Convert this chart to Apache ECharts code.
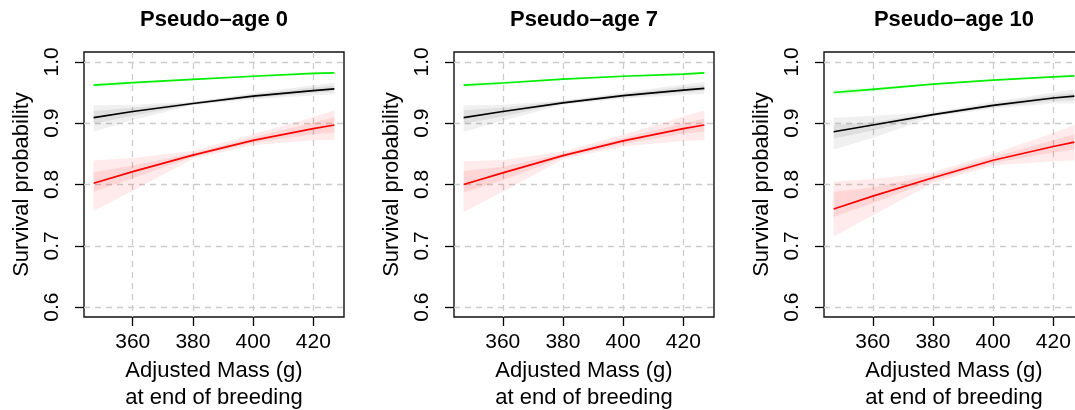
<!DOCTYPE html>
<html>
<head>
<meta charset="utf-8">
<script src="https://cdn.jsdelivr.net/npm/echarts@6/dist/echarts.min.js"></script>
<style>
  html, body { margin: 0; padding: 0; background: #fff; }
  #chart { width: 1075px; height: 410px; }
</style>
</head>
<body>
<div id="chart"></div>
<script>
// ---------------- data ----------------
const panelTitles = ['Pseudo\u2013age 0', 'Pseudo\u2013age 7', 'Pseudo\u2013age 10'];
const masses = [347, 360, 380, 400, 420, 427];
const xTicks = [360, 380, 400, 420];
const yTicks = [0.6, 0.7, 0.8, 0.9, 1.0];
const xName = 'Adjusted Mass (g)\nat end of breeding';
const yName = 'Survival probability';

// Pseudo-age 0
const age0Green      = [0.962, 0.966, 0.9715, 0.9765, 0.981, 0.982];
const age0GreenLo    = [0.958, 0.963, 0.9705, 0.975, 0.979, 0.980];
const age0GreenHi    = [0.965, 0.968, 0.9725, 0.978, 0.983, 0.984];
const age0Black      = [0.909, 0.919, 0.932, 0.944, 0.953, 0.956];
const age0BlackOutLo = [0.886, 0.905, 0.929, 0.939, 0.945, 0.947];
const age0BlackOutHi = [0.929, 0.930, 0.935, 0.949, 0.962, 0.966];
const age0BlackInLo  = [0.899, 0.912, 0.930, 0.941, 0.949, 0.952];
const age0BlackInHi  = [0.920, 0.925, 0.934, 0.947, 0.958, 0.961];
const age0Red        = [0.802, 0.821, 0.848, 0.872, 0.891, 0.897];
const age0RedOutLo   = [0.757, 0.790, 0.842, 0.864, 0.872, 0.873];
const age0RedOutHi   = [0.839, 0.843, 0.855, 0.882, 0.910, 0.921];
const age0RedInLo    = [0.788, 0.810, 0.845, 0.868, 0.882, 0.885];
const age0RedInHi    = [0.820, 0.831, 0.851, 0.877, 0.901, 0.910];

// Pseudo-age 7
const age7Green      = [0.962, 0.9655, 0.9717, 0.9765, 0.980, 0.982];
const age7GreenLo    = [0.958, 0.963, 0.9707, 0.975, 0.978, 0.980];
const age7GreenHi    = [0.965, 0.968, 0.9727, 0.978, 0.982, 0.984];
const age7Black      = [0.909, 0.919, 0.933, 0.945, 0.954, 0.9566];
const age7BlackOutLo = [0.886, 0.904, 0.930, 0.940, 0.946, 0.948];
const age7BlackOutHi = [0.929, 0.930, 0.937, 0.950, 0.963, 0.967];
const age7BlackInLo  = [0.899, 0.911, 0.932, 0.942, 0.950, 0.953];
const age7BlackInHi  = [0.921, 0.925, 0.936, 0.948, 0.959, 0.962];
const age7Red        = [0.800, 0.819, 0.847, 0.871, 0.891, 0.897];
const age7RedOutLo   = [0.755, 0.788, 0.841, 0.862, 0.871, 0.872];
const age7RedOutHi   = [0.838, 0.840, 0.854, 0.881, 0.911, 0.921];
const age7RedInLo    = [0.787, 0.807, 0.844, 0.866, 0.883, 0.886];
const age7RedInHi    = [0.822, 0.829, 0.850, 0.876, 0.900, 0.907];

// Pseudo-age 10
const age10Green      = [0.950, 0.955, 0.9636, 0.970, 0.9755, 0.977];
const age10GreenLo    = [0.945, 0.951, 0.9626, 0.969, 0.974, 0.975];
const age10GreenHi    = [0.954, 0.958, 0.9646, 0.971, 0.977, 0.979];
const age10Black      = [0.886, 0.897, 0.914, 0.929, 0.941, 0.944];
const age10BlackOutLo = [0.857, 0.876, 0.910, 0.924, 0.932, 0.932];
const age10BlackOutHi = [0.909, 0.912, 0.918, 0.935, 0.950, 0.955];
const age10BlackInLo  = [0.875, 0.888, 0.912, 0.926, 0.936, 0.9375];
const age10BlackInHi  = [0.897, 0.902, 0.916, 0.932, 0.946, 0.949];
const age10Red        = [0.760, 0.781, 0.811, 0.8395, 0.862, 0.869];
const age10RedOutLo   = [0.715, 0.750, 0.802, 0.831, 0.838, 0.839];
const age10RedOutHi   = [0.805, 0.809, 0.820, 0.850, 0.884, 0.897];
const age10RedInLo    = [0.747, 0.770, 0.806, 0.835, 0.852, 0.857];
const age10RedInHi    = [0.788, 0.795, 0.816, 0.845, 0.872, 0.882];

const panels = [
  { green: age0Green, greenLo: age0GreenLo, greenHi: age0GreenHi,
    black: age0Black, blackOutLo: age0BlackOutLo, blackOutHi: age0BlackOutHi, blackInLo: age0BlackInLo, blackInHi: age0BlackInHi,
    red: age0Red, redOutLo: age0RedOutLo, redOutHi: age0RedOutHi, redInLo: age0RedInLo, redInHi: age0RedInHi },
  { green: age7Green, greenLo: age7GreenLo, greenHi: age7GreenHi,
    black: age7Black, blackOutLo: age7BlackOutLo, blackOutHi: age7BlackOutHi, blackInLo: age7BlackInLo, blackInHi: age7BlackInHi,
    red: age7Red, redOutLo: age7RedOutLo, redOutHi: age7RedOutHi, redInLo: age7RedInLo, redInHi: age7RedInHi },
  { green: age10Green, greenLo: age10GreenLo, greenHi: age10GreenHi,
    black: age10Black, blackOutLo: age10BlackOutLo, blackOutHi: age10BlackOutHi, blackInLo: age10BlackInLo, blackInHi: age10BlackInHi,
    red: age10Red, redOutLo: age10RedOutLo, redOutHi: age10RedOutHi, redInLo: age10RedInLo, redInHi: age10RedInHi }
];

// ---------------- layout / style ----------------
const FONT = 'Liberation Sans, Arial, Helvetica, sans-serif';
const gridLefts = [84, 454, 824];
const gridTop = 52, gridW = 260, gridH = 265;
const xMin = 343.8, xMax = 430.2;
const yMin = 0.584, yMax = 1.016;
const gridLineStyle = { color: '#cccccc', width: 1.3, type: [6, 5] };

function band(idx, lo, hi, color, z) {
  return {
    type: 'custom', xAxisIndex: idx, yAxisIndex: idx, z: z, silent: true,
    data: masses.map((m, i) => [m, lo[i], hi[i]]),
    encode: { x: 0, y: [1, 2] },
    renderItem: function (params, api) {
      if (params.dataIndex !== 0) return null;
      const pts = [];
      for (let i = 0; i < masses.length; i++) pts.push(api.coord([masses[i], hi[i]]));
      for (let i = masses.length - 1; i >= 0; i--) pts.push(api.coord([masses[i], lo[i]]));
      return { type: 'polygon', shape: { points: pts }, style: { fill: color, stroke: null } };
    }
  };
}
function line(idx, vals, color, z) {
  return {
    type: 'line', xAxisIndex: idx, yAxisIndex: idx, z: z, silent: true,
    data: masses.map((m, i) => [m, vals[i]]),
    showSymbol: false, smooth: false,
    lineStyle: { color: color, width: 1.7, join: 'round' }
  };
}

const grids = [], xAxes = [], yAxes = [], titles = [], series = [];
panels.forEach((p, k) => {
  grids.push({ left: gridLefts[k], top: gridTop, width: gridW, height: gridH,
               outerBoundsMode: 'none', containLabel: false,
               show: true, borderColor: '#111', borderWidth: 1.4, backgroundColor: 'transparent' });
  titles.push({ text: panelTitles[k], left: gridLefts[k] + gridW / 2, top: 9, textAlign: 'center', padding: 0,
                textStyle: { fontFamily: FONT, fontSize: 22, fontWeight: 'bold', color: '#000' } });
  xAxes.push({
    type: 'value', gridIndex: k, min: xMin, max: xMax,
    name: xName, nameLocation: 'middle', nameGap: 37,
    nameTextStyle: { fontFamily: FONT, fontSize: 22, lineHeight: 27, color: '#000' },
    axisLine: { show: false, onZero: false },
    axisTick: { show: true, length: 9, customValues: xTicks, lineStyle: { color: '#000', width: 1.3 } },
    axisLabel: { customValues: xTicks, margin: 15, fontFamily: FONT, fontSize: 21, lineHeight: 21, color: '#000' },
    splitLine: { show: true, lineStyle: gridLineStyle }
  });
  yAxes.push({
    type: 'value', gridIndex: k, min: yMin, max: yMax,
    name: yName, nameLocation: 'middle', nameGap: 51, nameRotate: 90,
    nameTextStyle: { fontFamily: FONT, fontSize: 22, lineHeight: 22, color: '#000' },
    axisLine: { show: false, onZero: false },
    axisTick: { show: true, length: 9, customValues: yTicks, lineStyle: { color: '#000', width: 1.3 } },
    axisLabel: { customValues: yTicks, rotate: 90, margin: 21, fontFamily: FONT, fontSize: 21, lineHeight: 21, color: '#000',
                 formatter: v => Number(v).toFixed(1) },
    splitLine: { show: true, lineStyle: gridLineStyle }
  });
  series.push(band(k, p.blackOutLo, p.blackOutHi, 'rgba(0,0,0,0.06)', 1));
  series.push(band(k, p.blackInLo, p.blackInHi, 'rgba(0,0,0,0.07)', 2));
  series.push(band(k, p.redOutLo, p.redOutHi, 'rgba(255,0,0,0.08)', 1));
  series.push(band(k, p.redInLo, p.redInHi, 'rgba(255,0,0,0.09)', 2));
  series.push(band(k, p.greenLo, p.greenHi, 'rgba(0,255,0,0.10)', 2));
  series.push(line(k, p.green, '#00ee00', 5));
  series.push(line(k, p.black, '#000000', 5));
  series.push(line(k, p.red, '#ff0000', 5));
});

const chart = echarts.init(document.getElementById('chart'), null, { renderer: 'canvas' });
chart.setOption({
  animation: false,
  backgroundColor: '#fff',
  title: titles,
  grid: grids,
  xAxis: xAxes,
  yAxis: yAxes,
  series: series
});
</script>
</body>
</html>
